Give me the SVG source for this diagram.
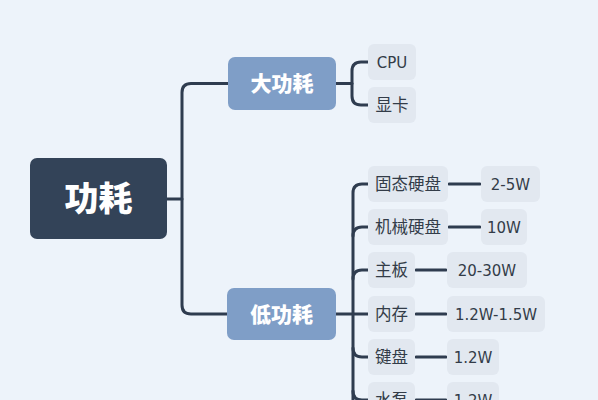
<svg xmlns="http://www.w3.org/2000/svg" width="598" height="400" viewBox="0 0 598 400">
<style>
.bg{fill:#EDF3FA}
.root{fill:#334358}
.main{fill:#7F9EC7}
.leaf{fill:#E2E8F0}
.ln{fill:none;stroke:#2F3C4F;stroke-width:3;stroke-linecap:round;stroke-linejoin:round}
.t{font-family:"DejaVu Sans","Noto Sans CJK SC",sans-serif;font-size:16.5px;fill:#333C48;text-anchor:middle}
.tl{font-size:15px}
.tm{font-family:"Noto Sans CJK SC",sans-serif;font-size:21px;font-weight:900;fill:#FFFFFF;text-anchor:middle}
.tr{font-family:"Noto Sans CJK SC",sans-serif;font-size:34px;font-weight:900;fill:#FFFFFF;text-anchor:middle}
</style>
<rect class="bg" x="0" y="0" width="598" height="400"/>
<g id="connectors">
<path class="ln" d="M166,199 H182"/>
<path class="ln" d="M228,83.5 H191 Q182,83.5 182,92.5 V305 Q182,314 191,314 H228"/>
<path class="ln" d="M336,83.5 H352"/>
<path class="ln" d="M368,62 H361 Q352,62 352,71 V96 Q352,105 361,105 H368"/>
<path class="ln" d="M336,314 H368"/>
<path class="ln" d="M368,184 H362 Q353,184 353,193 V410"/>
<path class="ln" d="M353,236 Q353,227 362,227 H368"/>
<path class="ln" d="M353,279 Q353,270 362,270 H368"/>
<path class="ln" d="M353,348 Q353,357 362,357 H368"/>
<path class="ln" d="M353,391 Q353,400 362,400 H368"/>
<path class="ln" d="M449,184 H480"/>
<path class="ln" d="M449,227 H480"/>
<path class="ln" d="M416,270 H446"/>
<path class="ln" d="M416,314 H446"/>
<path class="ln" d="M416,357 H446"/>
<path class="ln" d="M416,400 H446"/>
</g>
<g id="root"><rect class="root" x="30" y="158" width="137" height="81" rx="7"/><text class="tr" x="98.5" y="211">功耗</text></g>
<g id="big"><rect class="main" x="228" y="57" width="108" height="53" rx="7"/><text class="tm" x="282" y="91">大功耗</text></g>
<g id="low"><rect class="main" x="227" y="288" width="109" height="52" rx="7"/><text class="tm" x="281.5" y="321.5">低功耗</text></g>
<g id="cpu"><rect class="leaf" x="368" y="44" width="48" height="36" rx="6"/><text class="t tl" x="392" y="67.5">CPU</text></g>
<g id="gpu"><rect class="leaf" x="368" y="87" width="48" height="36" rx="6"/><text class="t" x="392" y="111">显卡</text></g>
<g id="ssd"><rect class="leaf" x="368" y="166" width="80" height="36" rx="6"/><text class="t" x="408" y="190">固态硬盘</text></g>
<g id="ssd-v"><rect class="leaf" x="481" y="166" width="59" height="36" rx="6"/><text class="t tl" x="510.5" y="189.5">2-5W</text></g>
<g id="hdd"><rect class="leaf" x="368" y="209" width="80" height="36" rx="6"/><text class="t" x="408" y="233">机械硬盘</text></g>
<g id="hdd-v"><rect class="leaf" x="481" y="209" width="46" height="36" rx="6"/><text class="t tl" x="504" y="232.5">10W</text></g>
<g id="mb"><rect class="leaf" x="368" y="252" width="47" height="36" rx="6"/><text class="t" x="391.5" y="276">主板</text></g>
<g id="mb-v"><rect class="leaf" x="447" y="252" width="80" height="36" rx="6"/><text class="t tl" x="487" y="275.5">20-30W</text></g>
<g id="ram"><rect class="leaf" x="368" y="296" width="47" height="36" rx="6"/><text class="t" x="391.5" y="320">内存</text></g>
<g id="ram-v"><rect class="leaf" x="447" y="296" width="98" height="36" rx="6"/><text class="t tl" x="496" y="319.5">1.2W-1.5W</text></g>
<g id="kb"><rect class="leaf" x="368" y="339" width="47" height="36" rx="6"/><text class="t" x="391.5" y="363">键盘</text></g>
<g id="kb-v"><rect class="leaf" x="447" y="339" width="52" height="36" rx="6"/><text class="t tl" x="473" y="362.5">1.2W</text></g>
<g id="pump"><rect class="leaf" x="368" y="382" width="47" height="36" rx="6"/><text class="t" x="391.5" y="406">水泵</text></g>
<g id="pump-v"><rect class="leaf" x="447" y="382" width="52" height="36" rx="6"/><text class="t tl" x="473" y="405.5">1.2W</text></g>
</svg>
